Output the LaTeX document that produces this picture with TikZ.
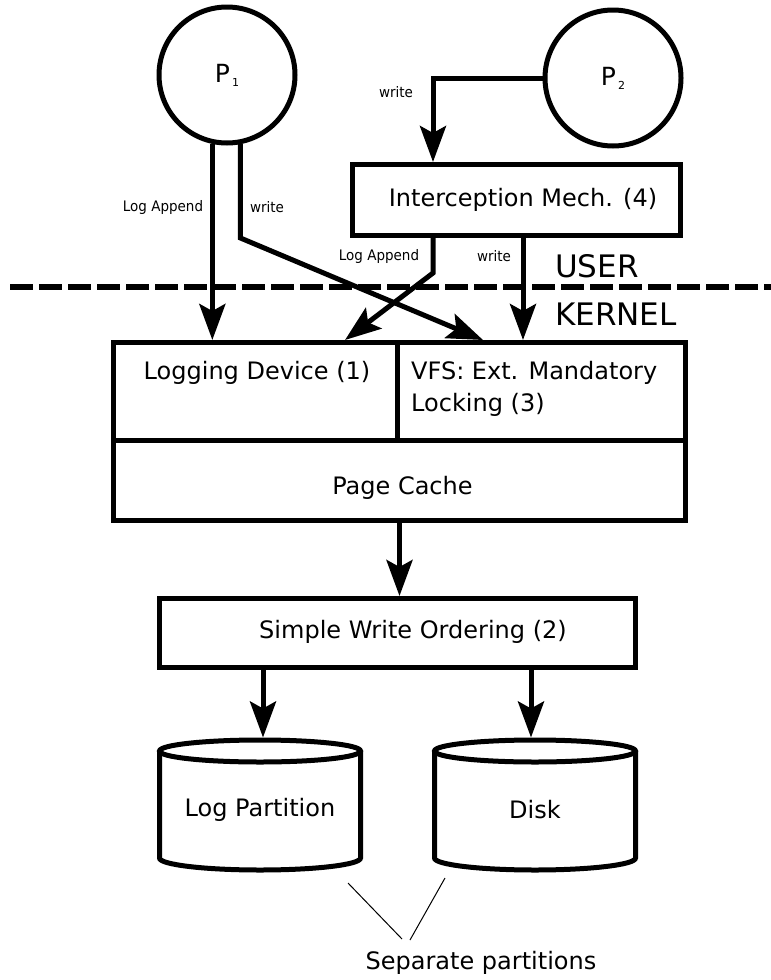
\documentclass[tikz,border=0pt]{standalone}
\usepackage{graphicx}
\usepackage{fontspec}
\setmainfont{DejaVu Sans}
\usetikzlibrary{arrows.meta,calc}
\newcommand{\proclabel}[1]{\fontsize{25}{28}\selectfont P\kern2pt\raisebox{-4pt}{\fontsize{11}{11}\selectfont #1}}
\newcommand{\narrow}[1]{\scalebox{0.93}[1]{#1}}
\begin{document}
\begin{tikzpicture}[x=1pt,y=1pt,
  bx/.style={draw, rectangle, line width=5pt, inner sep=0pt},
  proc/.style={draw, circle, line width=5pt, minimum size=136pt, inner sep=0pt},
  arr/.style={line width=5pt, -{Stealth[length=36pt,width=26pt,inset=7pt]}},
  ln/.style={line width=5pt},
  cylarea/.style={rectangle, inner sep=0pt, outer sep=0pt, minimum width=201pt, minimum height=135.5pt},
  maintext/.style={font=\fontsize{24}{32}\selectfont, inner sep=0pt},
  smalltext/.style={font=\fontsize{14.5}{17}\selectfont, inner sep=0pt},
  bigtext/.style={font=\fontsize{31}{36}\selectfont, inner sep=0pt},
  note/.style={line width=1pt}
]
\useasboundingbox (0,0) rectangle (771,-980);

% processes
\node[proc] (p1) at (227,-75) {\proclabel{1}};
\node[proc] (p2) at (613,-78) {\proclabel{2}};

% interception
\node[bx, minimum width=328pt, minimum height=71pt] (icpt) at (516.5,-200) {};
\node[maintext] (icptt) at (523,-200) {Interception Mech. (4)};

% kernel block
\node[bx, minimum width=283.5pt, minimum height=97.5pt] (logdev) at (255.25,-391.25) {};
\node[bx, minimum width=288.5pt, minimum height=97.5pt] (vfs) at (541.25,-391.25) {};
\node[bx, minimum width=572pt, minimum height=80.5pt] (cache) at (399.5,-480.25) {};
\node[maintext] (logdevt) at (257,-373) {Logging Device (1)};
\node[maintext, anchor=west, align=left] (vfst) at (411,-389) {VFS: Ext. Mandatory\\Locking (3)};
\node[maintext] (cachet) at (402.5,-488) {Page Cache};

% write ordering
\node[bx, minimum width=476pt, minimum height=69pt] (swo) at (397.5,-633) {};
\node[maintext] (swot) at (413,-632) {Simple Write Ordering (2)};

% cylinders
\node[cylarea] (lp) at (260,-805.25) {};
\node[cylarea] (disk) at (535,-805.25) {};
\draw[ln] (260,-751) ellipse [x radius=100.5, y radius=11];
\draw[ln] (159.5,-751) -- (159.5,-858) arc[start angle=180, end angle=360, x radius=100.5, y radius=12] -- (360.5,-751);
\draw[ln] (535,-751) ellipse [x radius=100.5, y radius=11];
\draw[ln] (434.5,-751) -- (434.5,-858) arc[start angle=180, end angle=360, x radius=100.5, y radius=12] -- (635.5,-751);
\node[maintext] (lpt) at (260,-810) {Log Partition};
\node[maintext] (diskt) at (535,-810) {Disk};

% separator
\coordinate (dl) at (10,-287);
\coordinate (dr) at (771,-287);
\draw[line width=6pt, dash pattern=on 23pt off 6pt] (dl) -- (dr);
\node[bigtext, anchor=base west] (user) at (555,-277) {USER};
\node[bigtext, anchor=base west] (kernel) at (555,-325) {KERNEL};

% connectors
\draw[arr] (p1.258) -- (p1.258 |- logdev.north);
\draw[arr] (p1.281) -- (p1.281 |- icpt.south) -- ([xshift=88.5pt]vfs.north west);
\draw[arr] (p2.west) -| ([xshift=-83.5pt]icpt.north);
\draw[arr] ([xshift=-83.5pt]icpt.south) -- ++(0,-35) -- ([xshift=-54.5pt]logdev.north east);
\draw[arr] ([xshift=6.5pt]icpt.south) -- ([xshift=6.5pt]icpt.south |- vfs.north);
\draw[arr] (cache.south) -- (cache.south |- swo.north);
\draw[arr] ([xshift=3pt]lp.north |- swo.south) -- ([xshift=3pt]lp.north);
\draw[arr] ([xshift=-4pt]disk.north |- swo.south) -- ([xshift=-4pt]disk.north);

% connector labels
\node[smalltext] (la1) at (163,-207) {\narrow{Log Append}};
\node[smalltext] (w1) at (267,-207) {\narrow{write}};
\node[smalltext] (w2) at (396,-92) {\narrow{write}};
\node[smalltext] (la2) at (379,-256) {\narrow{Log Append}};
\node[smalltext] (w3) at (494,-256) {\narrow{write}};

% note
\node[maintext] (sep) at (481,-963) {Separate partitions};
\coordinate (sa) at (348,-883);
\coordinate (sc) at (402,-939);
\coordinate (sb) at (445,-878);
\coordinate (sd) at (410,-940);
\draw[note] (sa) -- (sc);
\draw[note] (sb) -- (sd);
\end{tikzpicture}
\end{document}
